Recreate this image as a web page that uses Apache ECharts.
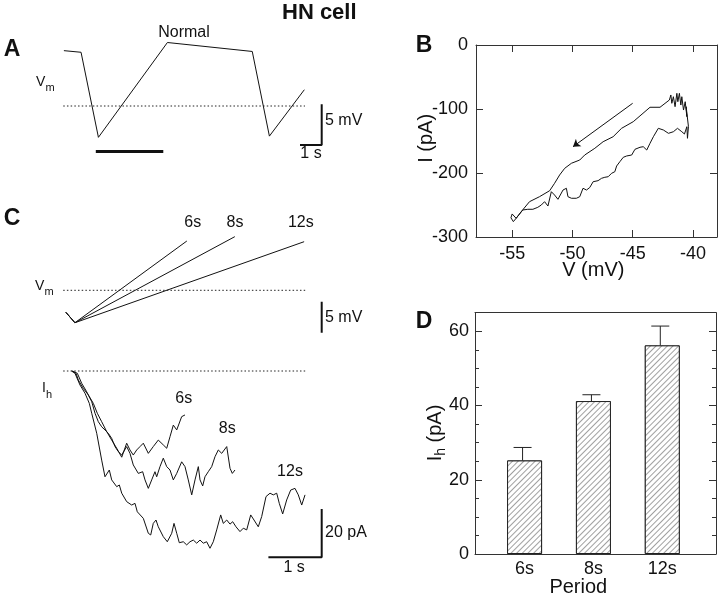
<!DOCTYPE html>
<html><head><meta charset="utf-8">
<script src="https://cdn.jsdelivr.net/npm/echarts@6/dist/echarts.min.js"></script>
<style>html,body{margin:0;padding:0;background:#fff}#c{width:720px;height:598px}</style>
</head><body><div id="c"></div>
<script>
// ---------- Panel A : Normal Vm trace (time s, Vm mV) ----------
const aTraceT = [0.18, 0.97, 1.77, 4.95, 8.86, 9.65, 11.26];
const aTraceV = [-43.2, -43.4, -53.85, -42.2, -43.3, -53.7, -48.0];
const aDotT = [0.15, 11.29];
const aDotV = [-50, -50];
const aBarT = [1.65, 4.76];
const aBarV = [-55.6, -55.6];
const aScaleT = [12.06, 12.06, 11.06];   // 1 s
const aScaleV = [-49.8, -54.8, -54.8];   // 5 mV

// ---------- Panel B : I-V relation (mV, pA) ----------
const bUpV = [-40.45,-40.37,-40.56,-40.5,-40.64,-40.78,-40.92,-41.0,-41.12,-41.25,-41.33,-41.48,-41.62,-41.75,-41.83,-41.95,-42.73,-43.56,-44.95,-45.92,-46.62,-47.45,-48.14,-48.98,-49.39,-50.08,-50.64,-51.06,-51.48,-51.89,-52.73,-53.56,-54.25,-54.67,-55.0,-55.1,-54.9,-54.67];
const bUpI = [-145.8,-127.6,-96.4,-112.0,-88.6,-101.6,-80.8,-93.8,-75.5,-88.6,-75.5,-96.4,-80.8,-91.1,-78.1,-85.9,-97.3,-97.3,-119.8,-130.2,-143.3,-151.1,-161.4,-171.9,-179.7,-184.8,-192.7,-203.1,-216.1,-227.7,-237.0,-244.8,-260.5,-270.8,-264,-270,-276,-270.8];
const bLowV = [-54.67,-54.12,-53.70,-53.28,-52.87,-52.58,-52.31,-52.03,-51.75,-51.48,-51.20,-50.78,-50.50,-50.37,-50.08,-49.67,-49.39,-49.12,-48.83,-48.56,-48.28,-47.87,-47.58,-47.31,-47.03,-46.75,-46.48,-46.33,-46.06,-45.78,-45.50,-45.08,-44.81,-44.39,-44.12,-43.83,-43.56,-43.28,-42.87,-42.45,-42.03,-41.62,-41.28,-40.92,-40.70,-40.50,-40.45];
const bLowI = [-270.8,-257.8,-256.7,-256.7,-253.6,-250.0,-244.8,-251.6,-229.2,-234.4,-241.1,-226.6,-223.9,-237.0,-239.5,-239.5,-237.0,-223.9,-226.6,-222.7,-213.6,-212.0,-208.3,-206.7,-205.8,-200.5,-198.0,-189.1,-182.3,-175.5,-173.4,-171.9,-163.0,-159.8,-158.9,-164.1,-153.6,-143.3,-130.2,-132.8,-138.0,-135.5,-130.2,-135.5,-139.1,-127.6,-145.8];
const bArrowV = [-45.0, -49.95];
const bArrowI = [-91.1, -158.9];
const bXTicks = [-55, -50, -45, -40];
const bYTicks = [-300, -200, -100, 0];

// ---------- Panel C (top) : Vm ramps for periods (s, mV) ----------
const cPeriods = ['6s', '8s', '12s'];
const cRampT = [[0.11, 0.28, 2.38], [0.11, 0.28, 3.28], [0.11, 0.28, 4.58]];
const cRampV = [[-53.55, -55.23, -42.05], [-53.55, -55.23, -41.35], [-53.55, -55.23, -42.16]];
const cDotT = [0.06, 4.6];
const cDotV = [-50, -50];
const cScaleT = [4.91, 4.91];
const cScaleV = [-51.84, -56.84];   // 5 mV

// ---------- Panel C (bottom) : Ih traces (s, pA) ----------
const ih6T = [0.225,0.30,0.343,0.437,0.531,0.625,0.70,0.782,0.876,0.97,1.064,1.158,1.251,1.313,1.375,1.439,1.501,1.563,1.657,1.75,1.844,1.938,2.002,2.064,2.126,2.19,2.283,2.345];
const ih6I = [0,-0.95,-3.7,-7.2,-9.9,-13.4,-17.5,-21.0,-25.1,-28.6,-32.0,-35.7,-29.9,-32.7,-34.8,-32.7,-31.3,-29.9,-34.1,-31.3,-28.6,-30.6,-32.0,-27.2,-22.4,-24.4,-18.9,-18.2];
const ih8T = [0.235,0.325,0.407,0.501,0.595,0.657,0.719,0.782,0.844,0.906,0.97,1.032,1.094,1.158,1.251,1.313,1.375,1.469,1.551,1.595,1.657,1.72,1.782,1.814,1.876,1.938,2.002,2.064,2.126,2.19,2.283,2.345,2.407,2.471,2.533,2.595,2.627,2.677,2.72,2.782,2.846,2.908,2.97,3.034,3.128,3.19,3.233,3.283];
const ih8I = [0,-0.95,-5.1,-8.6,-12.7,-17.5,-21.0,-23.1,-24.4,-25.8,-27.9,-31.3,-33.4,-34.8,-31.3,-34.1,-38.9,-42.4,-41.7,-45.1,-48.6,-45.1,-41.7,-43.8,-39.6,-36.1,-39.6,-41.0,-45.1,-42.4,-37.6,-39.6,-45.1,-51.3,-45.1,-39.6,-45.1,-47.6,-43.8,-41.7,-39.6,-35.5,-32.7,-34.1,-31.3,-40.3,-42.4,-41.0];
const ih12T = [0.216,0.281,0.375,0.469,0.55,0.595,0.689,0.782,0.844,0.925,0.97,1.064,1.113,1.158,1.251,1.345,1.407,1.45,1.563,1.657,1.702,1.75,1.801,1.844,1.938,2.013,2.096,2.139,2.19,2.238,2.313,2.377,2.439,2.501,2.565,2.627,2.689,2.752,2.814,2.876,2.94,3.015,3.064,3.128,3.19,3.24,3.302,3.377,3.439,3.503,3.578,3.64,3.72,3.784,3.865,3.94,4.002,4.066,4.114,4.178,4.253,4.328,4.409,4.471,4.535,4.597];
const ih12I = [0,-0.95,-5.8,-9.2,-13.4,-17.5,-25.8,-36.9,-43.8,-41.0,-45.1,-47.9,-47.2,-50.6,-54.1,-55.5,-54.8,-58.3,-61.0,-67.2,-67.9,-63.1,-61.7,-64.5,-68.6,-70.7,-67.2,-63.1,-67.2,-71.1,-70.7,-72.0,-70.7,-70.0,-71.3,-70.0,-71.3,-70.7,-73.4,-70.7,-65.8,-59.6,-63.1,-61.7,-63.4,-62.4,-64.5,-66.5,-65.1,-65.8,-59.6,-61.7,-64.5,-60.3,-52.0,-50.6,-51.3,-50.6,-54.8,-59.2,-53.4,-49.3,-48.6,-51.3,-55.5,-51.3];
const ihDotT = [0.06, 4.6];
const ihDotI = [0, 0];
const ihScaleT = [4.91, 4.91, 3.91];   // 1 s
const ihScaleI = [-57.1, -77.1, -77.1]; // 20 pA

// ---------- Panel D : mean Ih by period ----------
const dPeriods = ['6s', '8s', '12s'];
const dMean = [25.2, 41.2, 56.2];
const dErr = [3.5, 1.7, 5.2];
const dYLabels = [0, 20, 40, 60];
const dYMinor = [0, 5, 10, 15, 20, 25, 30, 35, 40, 45, 50, 55, 60];
const dYMajor = [20, 40, 60];

const FONT = 'Liberation Sans';
const INK = '#111';
const AX = '#333';
const zip = (a, b) => a.map((v, i) => [v, b[i]]);

const hidden = (gi, min, max) => ({ gridIndex: gi, type: 'value', min, max, show: false });

function traceLine(xi, yi, data, extra) {
  return Object.assign({
    type: 'line', xAxisIndex: xi, yAxisIndex: yi, data, symbol: 'none', silent: true,
    lineStyle: { color: INK, width: 1 }, z: 3
  }, extra || {});
}
const dotted = { color: '#222', width: 1, type: [1.5, 2.2] };

const frameAxis = (extra) => Object.assign({
  type: 'value', splitLine: { show: false },
  axisLine: { show: true, onZero: false, lineStyle: { color: AX, width: 1 } },
  axisLabel: { show: false },
  axisTick: { show: false }
}, extra);

const option = {
  animation: false,
  backgroundColor: '#fff',
  textStyle: { fontFamily: FONT },
  grid: [
    { left: 60, top: 24.6, width: 271.25, height: 146.52 },   // A
    { left: 476, top: 45, width: 241, height: 192 },          // B
    { left: 60, top: 228.3, width: 266.5, height: 111.6 },    // C top
    { left: 60, top: 366.17, width: 266.5, height: 198.03 },  // C bottom
    { left: 475, top: 312.7, width: 241, height: 241.3 }      // D
  ],
  xAxis: [
    hidden(0, 0, 12.5),
    frameAxis({ gridIndex: 1, position: 'bottom', min: -58, max: -38,
      axisTick: { show: true, inside: true, length: 7, customValues: bXTicks, lineStyle: { color: AX } },
      axisLabel: { show: true, customValues: bXTicks, fontSize: 18, color: INK, margin: 8, fontFamily: FONT } }),
    frameAxis({ gridIndex: 1, position: 'top', min: -58, max: -38,
      axisTick: { show: true, inside: true, length: 7, customValues: bXTicks, lineStyle: { color: AX } } }),
    hidden(2, 0, 5),
    hidden(3, 0, 5),
    frameAxis({ gridIndex: 4, position: 'bottom', min: 0.28, max: 3.78,
      axisLabel: { show: true, customValues: [1, 2, 3], fontSize: 18, color: INK, margin: 6, fontFamily: FONT,
        formatter: v => dPeriods[Math.round(v) - 1] || '' } }),
    frameAxis({ gridIndex: 4, position: 'top', min: 0.28, max: 3.78 })
  ],
  yAxis: [
    hidden(0, -58, -40),
    frameAxis({ gridIndex: 1, position: 'left', min: -300, max: 0,
      axisTick: { show: true, inside: true, length: 7, customValues: bYTicks, lineStyle: { color: AX } },
      axisLabel: { show: true, customValues: bYTicks, fontSize: 18, color: INK, margin: 8, fontFamily: FONT } }),
    frameAxis({ gridIndex: 1, position: 'right', min: -300, max: 0,
      axisTick: { show: true, inside: true, length: 7, customValues: bYTicks, lineStyle: { color: AX } } }),
    hidden(2, -58, -40),
    hidden(3, -80, 2),
    frameAxis({ gridIndex: 4, position: 'left', min: 0, max: 65,
      axisTick: { show: true, inside: true, length: 4, customValues: dYMinor, lineStyle: { color: AX } },
      axisLabel: { show: true, customValues: dYLabels, fontSize: 18, color: INK, margin: 6, fontFamily: FONT } }),
    frameAxis({ gridIndex: 4, position: 'right', min: 0, max: 65,
      axisTick: { show: true, inside: true, length: 4, customValues: dYMinor, lineStyle: { color: AX } } }),
    frameAxis({ gridIndex: 4, position: 'left', min: 0, max: 65, axisLine: { show: false },
      axisTick: { show: true, inside: true, length: 7, customValues: dYMajor, lineStyle: { color: AX } } }),
    frameAxis({ gridIndex: 4, position: 'right', min: 0, max: 65, axisLine: { show: false },
      axisTick: { show: true, inside: true, length: 7, customValues: dYMajor, lineStyle: { color: AX } } })
  ],
  series: [
    // A
    traceLine(0, 0, zip(aTraceT, aTraceV)),
    traceLine(0, 0, zip(aDotT, aDotV), { lineStyle: dotted }),
    traceLine(0, 0, zip(aBarT, aBarV), { lineStyle: { color: INK, width: 3 } }),
    traceLine(0, 0, zip(aScaleT, aScaleV), { lineStyle: { color: INK, width: 2 } }),
    // B
    traceLine(1, 1, zip(bUpV, bUpI)),
    traceLine(1, 1, zip(bLowV, bLowI)),
    { type: 'lines', coordinateSystem: 'cartesian2d', xAxisIndex: 1, yAxisIndex: 1, silent: true,
      symbol: ['none', 'arrow'], symbolSize: 7,
      lineStyle: { color: INK, width: 1, opacity: 1, curveness: 0 },
      data: [{ coords: zip(bArrowV, bArrowI) }] },
    // C top
    ...cPeriods.map((p, k) => traceLine(3, 3, zip(cRampT[k], cRampV[k]))),
    traceLine(3, 3, zip(cDotT, cDotV), { lineStyle: dotted }),
    traceLine(3, 3, zip(cScaleT, cScaleV), { lineStyle: { color: INK, width: 2 } }),
    // C bottom
    traceLine(4, 4, zip(ih6T, ih6I)),
    traceLine(4, 4, zip(ih8T, ih8I)),
    traceLine(4, 4, zip(ih12T, ih12I)),
    traceLine(4, 4, zip(ihDotT, ihDotI), { lineStyle: dotted }),
    traceLine(4, 4, zip(ihScaleT, ihScaleI), { lineStyle: { color: INK, width: 2 } }),
    // D
    { type: 'bar', xAxisIndex: 5, yAxisIndex: 5, barWidth: 35, silent: true,
      data: dMean.map((v, i) => [i + 1, v]),
      itemStyle: { color: '#fff', borderColor: '#222', borderWidth: 1,
        decal: { symbol: 'rect', symbolSize: 1, color: '#a0a0a0', backgroundColor: '#fff',
          dashArrayX: [1, 0], dashArrayY: [1, 3], rotation: -Math.PI / 4 } } },
    { type: 'custom', xAxisIndex: 5, yAxisIndex: 5, silent: true, z: 5,
      data: dMean.map((v, i) => [i + 1, v, dErr[i]]),
      renderItem: (params, api) => {
        const x = api.value(0), m = api.value(1), e = api.value(2);
        const b = api.coord([x, m]), t = api.coord([x, m + e]);
        return { type: 'group', children: [
          { type: 'line', shape: { x1: b[0] - 2, y1: b[1], x2: t[0] - 2, y2: t[1] }, style: { stroke: '#222', lineWidth: 1 } },
          { type: 'line', shape: { x1: t[0] - 11, y1: t[1], x2: t[0] + 7, y2: t[1] }, style: { stroke: '#222', lineWidth: 1 } }
        ] };
      } }
  ]
};

// ---------- Text (annotations) ----------
function T(x, y, text, size, opts) {
  return Object.assign({ type: 'text', x, y, silent: true, z: 10,
    style: Object.assign({ text, fontSize: size, fontFamily: FONT, fill: INK, align: 'center', verticalAlign: 'middle' }, (opts && opts.style) || {}) },
    opts ? { rotation: opts.rotation || 0 } : {});
}
const bold = { style: { fontWeight: 'bold' } };
const left = { style: { align: 'left' } };
option.graphic = [
  T(282, 13, 'HN cell', 22, { style: { fontWeight: 'bold', align: 'left' } }),
  T(12, 49.5, 'A', 23, bold),
  T(424, 45.3, 'B', 23, bold),
  T(12, 218.3, 'C', 23, bold),
  T(424, 321.7, 'D', 23, bold),
  // A
  T(184, 32.5, 'Normal', 16),
  T(36, 82.5, 'V', 14, left),
  T(45.5, 88, 'm', 11, left),
  T(325, 120.7, '5 mV', 16, left),
  T(311, 153.5, '1 s', 16),
  // B axis names
  T(426.5, 138.3, 'I (pA)', 20, { rotation: Math.PI / 2 }),
  T(593.3, 270.7, 'V (mV)', 20),
  // C top
  T(192.8, 222.5, cPeriods[0], 16),
  T(235, 222.5, cPeriods[1], 16),
  T(300.8, 222.5, cPeriods[2], 16),
  T(35, 286.5, 'V', 14, left),
  T(44.5, 292, 'm', 11, left),
  T(325, 317.3, '5 mV', 16, left),
  // C bottom
  T(42, 388.5, 'I', 14, left),
  T(46, 394.5, 'h', 11, left),
  T(183.8, 399, cPeriods[0], 16),
  T(227.2, 428.3, cPeriods[1], 16),
  T(290, 472, cPeriods[2], 16),
  T(325, 533, '20 pA', 16, left),
  T(294.2, 567.5, '1 s', 16),
  // D axis names
  { type: 'text', x: 437, y: 433, rotation: Math.PI / 2, silent: true, z: 10,
    style: { text: '{a|I}{s|h}{a| (pA)}', align: 'center', verticalAlign: 'middle', fill: INK, fontFamily: FONT,
      rich: { a: { fontSize: 20, fontFamily: FONT, fill: INK, lineHeight: 23, verticalAlign: 'top' },
              s: { fontSize: 14, fontFamily: FONT, fill: INK, lineHeight: 14, verticalAlign: 'bottom' } } } },
  T(578.3, 587, 'Period', 20)
];

const chart = echarts.init(document.getElementById('c'), null, { renderer: 'canvas' });
chart.setOption(option);
</script>
</body></html>
